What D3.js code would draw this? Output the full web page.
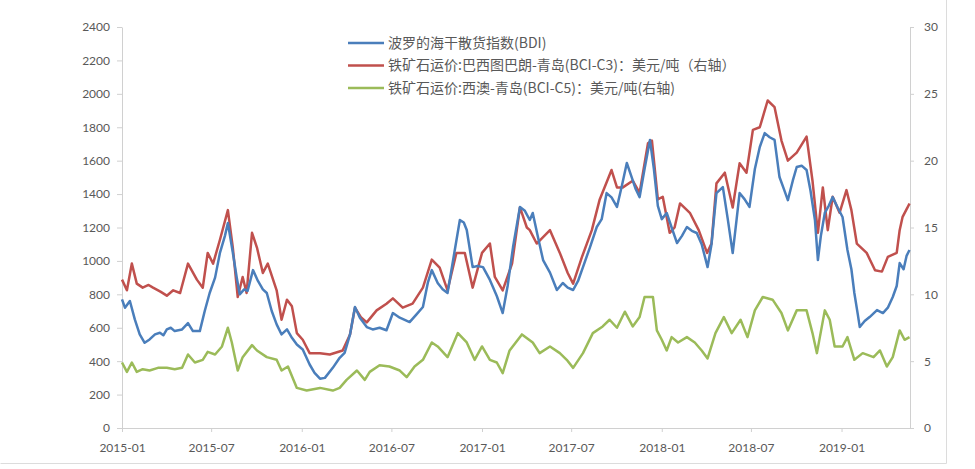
<!DOCTYPE html>
<html>
<head>
<meta charset="utf-8">
<script src="https://cdn.jsdelivr.net/npm/d3@7"></script>
<style>
  body { margin: 0; background: #fff; }
  svg { display: block; }
</style>
</head>
<body>
<svg id="chart" width="975" height="469"></svg>
<script>
// Baltic Dry Index (left axis)
const bdiSeries = [
  ["2015-01-01",770],["2015-01-07",720],["2015-01-17",760],["2015-01-27",650],["2015-02-06",560],
  ["2015-02-16",510],["2015-02-26",530],["2015-03-09",560],["2015-03-19",570],["2015-03-26",555],
  ["2015-04-02",590],["2015-04-10",600],["2015-04-18",580],["2015-05-03",590],["2015-05-15",628],
  ["2015-05-25",580],["2015-06-08",580],["2015-06-18",700],["2015-06-28",808],["2015-07-09",900],
  ["2015-07-19",1050],["2015-07-29",1150],["2015-08-04",1227],["2015-08-14",1050],["2015-08-22",900],
  ["2015-08-28",800],["2015-09-06",830],["2015-09-13",820],["2015-09-24",945],["2015-10-04",880],
  ["2015-10-14",830],["2015-10-22",808],["2015-11-01",700],["2015-11-11",620],["2015-11-21",560],
  ["2015-12-02",590],["2015-12-12",540],["2015-12-22",500],["2016-01-03",470],["2016-01-17",380],
  ["2016-01-27",330],["2016-02-07",295],["2016-02-17",300],["2016-03-04",360],["2016-03-18",420],
  ["2016-03-28",450],["2016-04-08",560],["2016-04-18",724],["2016-04-28",660],["2016-05-12",604],
  ["2016-05-24",590],["2016-06-07",600],["2016-06-21",585],["2016-07-04",688],["2016-07-18",660],
  ["2016-08-07",634],["2016-08-21",680],["2016-09-03",724],["2016-09-13",870],["2016-09-21",945],
  ["2016-10-03",868],["2016-10-13",830],["2016-10-23",808],["2016-11-03",1000],["2016-11-17",1245],
  ["2016-11-25",1230],["2016-12-01",1185],["2016-12-13",963],["2016-12-23",970],["2017-01-03",963],
  ["2017-01-17",886],["2017-01-31",790],["2017-02-12",688],["2017-02-22",850],["2017-03-05",1083],
  ["2017-03-19",1323],["2017-03-29",1300],["2017-04-08",1245],["2017-04-14",1287],["2017-04-24",1150],
  ["2017-05-05",1005],["2017-05-19",930],["2017-06-02",826],["2017-06-14",868],["2017-06-24",840],
  ["2017-07-05",826],["2017-07-15",880],["2017-07-25",963],["2017-08-08",1080],["2017-08-22",1203],
  ["2017-09-01",1250],["2017-09-11",1406],["2017-09-21",1380],["2017-10-02",1323],["2017-10-12",1450],
  ["2017-10-22",1586],["2017-11-01",1500],["2017-11-09",1430],["2017-11-17",1382],["2017-11-27",1550],
  ["2017-12-08",1724],["2017-12-16",1550],["2017-12-24",1330],["2018-01-01",1250],["2018-01-11",1287],
  ["2018-01-21",1200],["2018-02-01",1107],["2018-02-11",1150],["2018-02-21",1203],["2018-03-03",1180],
  ["2018-03-13",1167],["2018-03-23",1100],["2018-04-04",963],["2018-04-12",1100],["2018-04-22",1406],
  ["2018-05-05",1442],["2018-05-15",1250],["2018-05-25",1047],["2018-06-02",1250],["2018-06-08",1406],
  ["2018-06-18",1370],["2018-06-28",1323],["2018-07-09",1550],["2018-07-19",1682],["2018-07-29",1765],
  ["2018-08-08",1740],["2018-08-18",1724],["2018-08-28",1502],["2018-09-06",1430],["2018-09-14",1364],
  ["2018-09-24",1480],["2018-10-02",1562],["2018-10-12",1570],["2018-10-22",1544],["2018-10-30",1420],
  ["2018-11-08",1245],["2018-11-14",1005],["2018-11-20",1150],["2018-11-28",1287],["2018-12-06",1330],
  ["2018-12-14",1382],["2018-12-24",1320],["2019-01-03",1263],["2019-01-13",1065],["2019-01-21",950],
  ["2019-01-27",808],["2019-02-03",680],["2019-02-07",604],["2019-02-17",640],["2019-02-27",664],
  ["2019-03-14",706],["2019-03-26",688],["2019-04-05",720],["2019-04-15",784],["2019-04-23",850],
  ["2019-04-29",987],["2019-05-07",950],["2019-05-13",1030],["2019-05-19",1065]
];

// Iron ore freight, Tubarao - Qingdao (BCI-C3), USD/t (right axis)
const c3Series = [
  ["2015-01-01",11.1],["2015-01-11",10.3],["2015-01-21",12.3],["2015-01-31",10.8],["2015-02-12",10.5],
  ["2015-02-24",10.7],["2015-03-05",10.5],["2015-03-20",10.2],["2015-04-02",9.9],["2015-04-15",10.3],
  ["2015-04-29",10.1],["2015-05-15",12.3],["2015-06-02",11.1],["2015-06-14",10.5],["2015-06-24",13.1],
  ["2015-07-05",12.3],["2015-07-19",14.1],["2015-08-04",16.3],["2015-08-14",13.5],["2015-08-24",9.8],
  ["2015-09-03",11.3],["2015-09-11",10.1],["2015-09-22",14.6],["2015-10-02",13.5],["2015-10-14",11.6],
  ["2015-10-24",12.3],["2015-11-11",10.3],["2015-11-21",8.1],["2015-12-02",9.6],["2015-12-12",9.1],
  ["2015-12-22",7.1],["2016-01-03",6.6],["2016-01-17",5.6],["2016-02-07",5.6],["2016-02-27",5.5],
  ["2016-03-24",5.8],["2016-04-08",7.0],["2016-04-18",9.0],["2016-04-30",8.3],["2016-05-12",7.9],
  ["2016-06-01",8.8],["2016-06-21",9.3],["2016-07-04",9.7],["2016-07-24",9.0],["2016-08-13",9.3],
  ["2016-09-03",10.5],["2016-09-21",12.6],["2016-10-07",12.0],["2016-10-23",10.3],["2016-11-10",13.1],
  ["2016-11-27",13.1],["2016-12-13",10.5],["2017-01-01",13.1],["2017-01-17",13.8],["2017-01-27",11.3],
  ["2017-02-12",10.3],["2017-03-03",12.3],["2017-03-19",16.5],["2017-04-02",15.0],["2017-04-08",14.8],
  ["2017-04-22",13.8],["2017-05-19",14.8],["2017-06-08",13.1],["2017-06-24",11.6],["2017-07-05",10.8],
  ["2017-07-23",12.8],["2017-08-12",14.8],["2017-08-28",17.1],["2017-09-21",19.3],["2017-10-02",18.0],
  ["2017-10-14",18.0],["2017-11-03",18.5],["2017-11-17",17.6],["2017-12-04",21.3],["2017-12-12",21.5],
  ["2017-12-24",17.1],["2018-01-03",17.3],["2018-01-17",14.6],["2018-01-27",15.0],["2018-02-07",16.8],
  ["2018-02-27",16.1],["2018-03-17",14.8],["2018-04-03",13.1],["2018-04-12",13.8],["2018-04-22",18.3],
  ["2018-05-09",19.1],["2018-05-25",16.5],["2018-06-08",19.8],["2018-06-22",19.1],["2018-07-05",22.3],
  ["2018-07-19",22.5],["2018-08-04",24.5],["2018-08-18",24.0],["2018-09-01",21.5],["2018-09-14",20.0],
  ["2018-10-02",20.6],["2018-10-22",21.8],["2018-11-03",18.5],["2018-11-14",14.6],["2018-11-24",18.0],
  ["2018-12-04",14.8],["2018-12-14",17.3],["2018-12-28",16.1],["2019-01-11",17.8],["2019-01-21",16.3],
  ["2019-02-01",13.8],["2019-02-21",13.1],["2019-03-10",11.8],["2019-03-24",11.7],["2019-04-05",12.8],
  ["2019-04-23",13.1],["2019-04-29",14.8],["2019-05-05",15.8],["2019-05-15",16.5],["2019-05-19",16.8]
];

// Iron ore freight, West Australia - Qingdao (BCI-C5), USD/t (right axis)
const c5Series = [
  ["2015-01-01",4.9],["2015-01-11",4.2],["2015-01-21",4.9],["2015-01-31",4.2],["2015-02-12",4.4],
  ["2015-02-26",4.3],["2015-03-15",4.5],["2015-04-02",4.5],["2015-04-18",4.4],["2015-05-03",4.5],
  ["2015-05-15",5.5],["2015-05-29",4.9],["2015-06-14",5.1],["2015-06-24",5.7],["2015-07-09",5.5],
  ["2015-07-23",6.1],["2015-08-04",7.5],["2015-08-12",6.4],["2015-08-24",4.3],["2015-09-03",5.3],
  ["2015-09-22",6.2],["2015-10-02",5.8],["2015-10-22",5.3],["2015-11-11",5.1],["2015-11-21",4.3],
  ["2015-12-04",4.6],["2015-12-22",3.0],["2016-01-11",2.8],["2016-02-07",3.0],["2016-03-04",2.8],
  ["2016-03-18",3.0],["2016-04-01",3.6],["2016-04-22",4.3],["2016-05-08",3.6],["2016-05-18",4.2],
  ["2016-06-07",4.7],["2016-06-27",4.6],["2016-07-18",4.3],["2016-08-01",3.8],["2016-08-17",4.6],
  ["2016-09-03",5.1],["2016-09-21",6.4],["2016-10-03",6.1],["2016-10-23",5.3],["2016-11-13",7.1],
  ["2016-12-01",6.4],["2016-12-17",5.1],["2017-01-01",6.1],["2017-01-17",5.1],["2017-01-31",4.9],
  ["2017-02-12",4.1],["2017-02-26",5.8],["2017-03-23",7.0],["2017-04-14",6.4],["2017-04-28",5.6],
  ["2017-05-19",6.1],["2017-06-08",5.6],["2017-06-22",5.1],["2017-07-05",4.5],["2017-07-25",5.6],
  ["2017-08-14",7.1],["2017-09-03",7.6],["2017-09-17",8.1],["2017-10-02",7.5],["2017-10-18",8.7],
  ["2017-11-03",7.6],["2017-11-17",8.3],["2017-11-27",9.8],["2017-12-14",9.8],["2017-12-22",7.3],
  ["2018-01-01",6.6],["2018-01-11",5.8],["2018-01-21",6.8],["2018-02-03",6.4],["2018-02-21",6.8],
  ["2018-03-09",6.4],["2018-03-23",5.8],["2018-04-04",5.2],["2018-04-20",7.1],["2018-05-07",8.3],
  ["2018-05-23",7.1],["2018-06-10",8.1],["2018-06-24",6.8],["2018-07-09",8.8],["2018-07-25",9.8],
  ["2018-08-14",9.6],["2018-09-01",8.6],["2018-09-14",7.3],["2018-10-02",8.8],["2018-10-22",8.8],
  ["2018-11-03",7.1],["2018-11-12",5.6],["2018-11-28",8.8],["2018-12-08",8.1],["2018-12-18",6.1],
  ["2019-01-03",6.1],["2019-01-13",6.8],["2019-01-27",5.1],["2019-02-13",5.6],["2019-03-07",5.3],
  ["2019-03-20",5.8],["2019-04-03",4.6],["2019-04-15",5.3],["2019-04-29",7.3],["2019-05-09",6.6],
  ["2019-05-19",6.8]
];

const leftTicks = [0, 200, 400, 600, 800, 1000, 1200, 1400, 1600, 1800, 2000, 2200, 2400];
const rightTicks = [0, 5, 10, 15, 20, 25, 30];
const xTickLabels = ["2015-01", "2015-07", "2016-01", "2016-07", "2017-01", "2017-07", "2018-01", "2018-07", "2019-01"];
const seriesNames = [
  "波罗的海干散货指数(BDI)",
  "铁矿石运价:巴西图巴朗-青岛(BCI-C3)：美元/吨（右轴）",
  "铁矿石运价:西澳-青岛(BCI-C5)：美元/吨(右轴)"
];
const seriesColors = ["#4a7ebb", "#c0504d", "#9bbb59"];

const parseDay = d3.timeParse("%Y-%m-%d");
const parseMonth = d3.timeParse("%Y-%m");

const svg = d3.select("#chart");
const plot = { left: 122, right: 910, top: 27, bottom: 428 };

const x = d3.scaleTime()
  .domain([parseDay("2015-01-01"), parseDay("2019-05-20")])
  .range([plot.left, plot.right]);
const yLeft = d3.scaleLinear().domain([0, 2400]).range([plot.bottom, plot.top]);
const yRight = d3.scaleLinear().domain([0, 30]).range([plot.bottom, plot.top]);

const axisColor = "#d0d0d0";
const labelColor = "#595959";
const numFont = "Lato, 'Liberation Sans', sans-serif";

// outer frame of the chart area
svg.append("path")
  .attr("d", "M0.5,463.5H946.5V0")
  .attr("fill", "none")
  .attr("stroke", "#dcdcdc");

function styleAxis(g) {
  g.select(".domain").attr("stroke", axisColor).attr("stroke-width", 1);
  g.selectAll(".tick line").attr("stroke", axisColor);
  g.selectAll(".tick text").attr("fill", labelColor)
    .attr("font-family", numFont).attr("font-size", 12);
}

// x axis
svg.append("g")
  .attr("transform", `translate(0,${plot.bottom})`)
  .call(d3.axisBottom(x)
    .tickValues(xTickLabels.map(parseMonth))
    .tickFormat((d, i) => xTickLabels[i])
    .tickSize(4).tickSizeOuter(0).tickPadding(11))
  .call(styleAxis);

// left axis
svg.append("g")
  .attr("transform", `translate(${plot.left},0)`)
  .call(d3.axisLeft(yLeft).tickValues(leftTicks).tickFormat(d3.format("d"))
    .tickSize(5).tickSizeOuter(0).tickPadding(7))
  .call(styleAxis);

// right axis
svg.append("g")
  .attr("transform", `translate(${plot.right},0)`)
  .call(d3.axisRight(yRight).tickValues(rightTicks).tickFormat(d3.format("d"))
    .tickSize(4).tickSizeOuter(0).tickPadding(10))
  .call(styleAxis);

// series lines
const lineLeft = d3.line().x(d => x(parseDay(d[0]))).y(d => yLeft(d[1]));
const lineRight = d3.line().x(d => x(parseDay(d[0]))).y(d => yRight(d[1]));

const series = [
  { data: bdiSeries, line: lineLeft },
  { data: c3Series, line: lineRight },
  { data: c5Series, line: lineRight }
];

// green first, then red, then blue on top
[2, 1, 0].forEach(i => {
  svg.append("path")
    .datum(series[i].data)
    .attr("fill", "none")
    .attr("stroke", seriesColors[i])
    .attr("stroke-width", 2.5)
    .attr("stroke-linejoin", "round")
    .attr("d", series[i].line);
});

// legend
const legend = svg.append("g").attr("transform", "translate(348,43)");
seriesNames.forEach((name, i) => {
  const row = legend.append("g").attr("transform", `translate(0,${i * 22.5})`);
  row.append("line")
    .attr("x1", 0).attr("x2", 36).attr("y1", 0).attr("y2", 0)
    .attr("stroke", seriesColors[i]).attr("stroke-width", 2.5);
  row.append("text")
    .attr("x", 40).attr("y", 0).attr("dy", "0.35em")
    .attr("fill", labelColor)
    .attr("font-family", "'Noto Sans CJK SC', sans-serif")
    .attr("font-size", 14)
    .text(name);
});
</script>
</body>
</html>
